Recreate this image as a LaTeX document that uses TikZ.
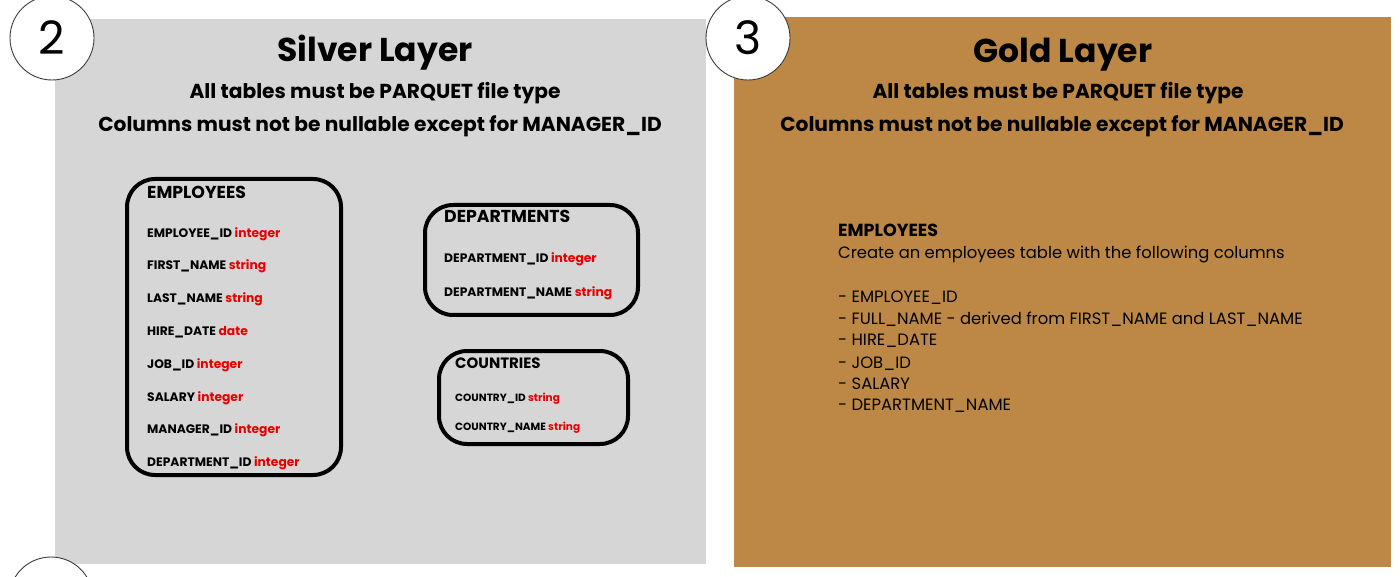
\documentclass[tikz,border=0pt]{standalone}
\usepackage{fontspec}
\setmainfont{Poppins}
\definecolor{silverbg}{RGB}{214,214,214}
\definecolor{goldbg}{RGB}{189,136,70}
\definecolor{typered}{RGB}{232,0,0}
\definecolor{ringgray}{RGB}{60,60,60}
\begin{document}
\begin{tikzpicture}[x=1pt,y=-1pt,
  numring/.style={circle,draw=ringgray,line width=0.9pt,fill=white,minimum size=84pt,inner sep=0pt,font=\fontsize{46}{46}\selectfont},
  layertitle/.style={anchor=base,inner sep=0pt,font=\fontsize{33}{33}\selectfont\bfseries},
  layersub/.style={anchor=base,inner sep=0pt,font=\fontsize{20.2}{20.2}\selectfont\bfseries},
  tablebox/.style={draw=black,line width=4pt,rounded corners=28pt},
  tabletitle/.style={anchor=base west,inner sep=0pt,font=\fontsize{17.3}{17.3}\selectfont\bfseries},
  tablerow/.style={anchor=base west,inner sep=0pt,font=\fontsize{12.3}{12.3}\selectfont\bfseries},
  smallrow/.style={anchor=base west,inner sep=0pt,font=\fontsize{10.5}{10.5}\selectfont\bfseries},
  goldtext/.style={anchor=base west,inner sep=0pt,font=\fontsize{16.4}{16.4}\selectfont},
]
\useasboundingbox (0,0) rectangle (1400,577);
\clip (0,0) rectangle (1400,577);
\fill[white] (0,0) rectangle (1400,577);
% panels
\fill[silverbg] (55,19) rectangle (706,564);
\fill[goldbg] (734,17) rectangle (1391,567);
% number rings
\node[numring] (n2) at (52,38) {2};
\node[numring] (n3) at (748,38) {3};
\node[numring] (n4) at (51,599) {};
% silver titles
\node[layertitle] (stitle) at (375,62) {Silver Layer};
\node[layersub] (ssub1) at (375,99) {All tables must be PARQUET file type};
\node[layersub] (ssub2) at (380,132) {Columns must not be nullable except for MANAGER\_ID};
% gold titles
\node[layertitle] (gtitle) at (1063,63) {Gold Layer};
\node[layersub] (gsub1) at (1058,99) {All tables must be PARQUET file type};
\node[layersub] (gsub2) at (1062,132) {Columns must not be nullable except for MANAGER\_ID};
% employees table
\draw[tablebox] (127,179) rectangle (341,475);
\node[tabletitle] (et) at (147,199) {EMPLOYEES};
\node[tablerow] (e1) at (147,238) {EMPLOYEE\_ID \textcolor{typered}{integer}};
\node[tablerow] (e2) at (147,270) {FIRST\_NAME \textcolor{typered}{string}};
\node[tablerow] (e3) at (147,303) {LAST\_NAME \textcolor{typered}{string}};
\node[tablerow] (e4) at (147,335) {HIRE\_DATE \textcolor{typered}{date}};
\node[tablerow] (e5) at (147,368) {JOB\_ID \textcolor{typered}{integer}};
\node[tablerow] (e6) at (147,401) {SALARY \textcolor{typered}{integer}};
\node[tablerow] (e7) at (147,433) {MANAGER\_ID \textcolor{typered}{integer}};
\node[tablerow] (e8) at (147,466) {DEPARTMENT\_ID \textcolor{typered}{integer}};
% departments table
\draw[tablebox] (425,205) rectangle (638,315);
\node[tabletitle] (dt) at (444,223) {DEPARTMENTS};
\node[tablerow] (d1) at (444,263) {DEPARTMENT\_ID \textcolor{typered}{integer}};
\node[tablerow] (d2) at (444,297) {DEPARTMENT\_NAME \textcolor{typered}{string}};
% countries table
\draw[tablebox] (439,351) rectangle (628,444);
\node[tabletitle,font=\fontsize{15}{15}\selectfont\bfseries] (ct) at (455,368) {COUNTRIES};
\node[smallrow] (c1) at (455,401) {COUNTRY\_ID \textcolor{typered}{string}};
\node[smallrow] (c2) at (455,430) {COUNTRY\_NAME \textcolor{typered}{string}};
% gold content
\node[goldtext,font=\fontsize{17.5}{17.5}\selectfont\bfseries] (gt) at (838,237) {EMPLOYEES};
\node[goldtext] (g0) at (838,259) {Create an employees table with the following columns};
\node[goldtext] (g1) at (838,302) {- EMPLOYEE\_ID};
\node[goldtext] (g2) at (838,324) {- FULL\_NAME - derived from FIRST\_NAME and LAST\_NAME};
\node[goldtext] (g3) at (838,345) {- HIRE\_DATE};
\node[goldtext] (g4) at (838,368) {- JOB\_ID};
\node[goldtext] (g5) at (838,389) {- SALARY};
\node[goldtext] (g6) at (838,410) {- DEPARTMENT\_NAME};
\end{tikzpicture}
\end{document}
